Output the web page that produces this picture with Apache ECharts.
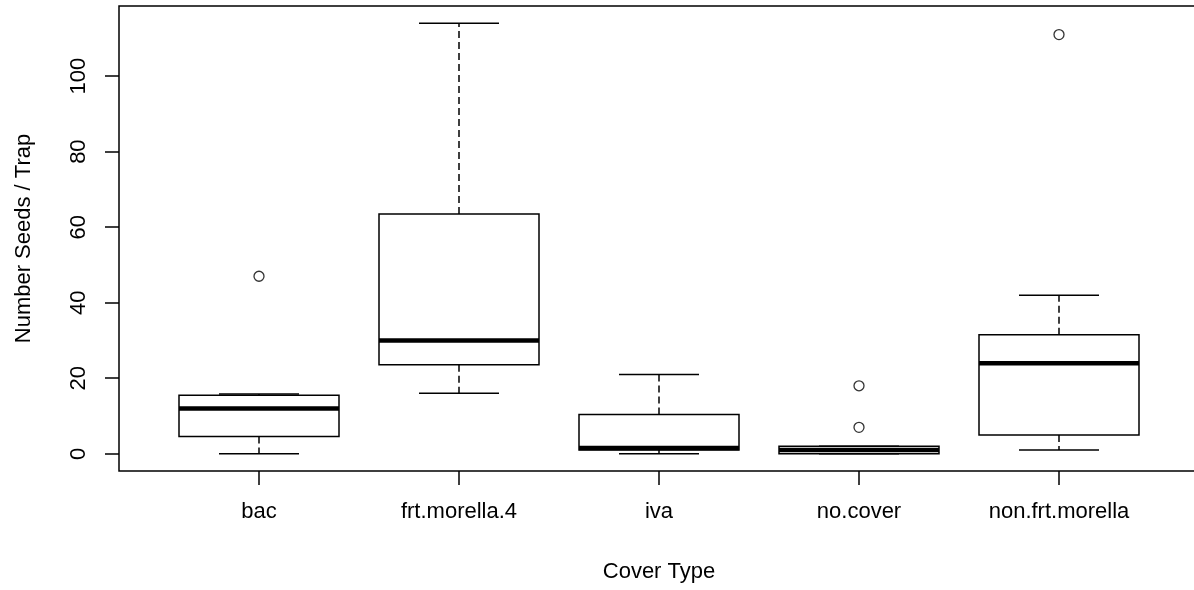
<!DOCTYPE html>
<html>
<head>
<meta charset="utf-8">
<title>Number Seeds / Trap by Cover Type</title>
<script src="https://cdn.jsdelivr.net/npm/echarts@6/dist/echarts.min.js"></script>
<style>
  html, body { margin: 0; padding: 0; background: #fff; }
  #chart { width: 1194px; height: 590px; }
</style>
</head>
<body>
<div id="chart"></div>
<script>
// Cover types along the x axis
const categories = ['bac', 'frt.morella.4', 'iva', 'no.cover', 'non.frt.morella'];

// Five-number summaries per cover type
const lowerWhisker = [0, 16, 0, 0, 1];
const lowerHinge   = [4.6, 23.6, 1, 0, 5];
const medians      = [12, 30, 1.5, 1, 24];
const upperHinge   = [15.5, 63.5, 10.4, 2, 31.5];
const upperWhisker = [15.8, 114, 21, 2, 42];

// Outlying points: index of the cover type and value
const outlierGroup  = [0, 3, 3, 4];
const outlierValues = [47, 18, 7, 111];

// Y axis tick values
const yTicks = [0, 20, 40, 60, 80, 100];
const xTicks = categories.map((_, i) => i + 1);

const FONT = '"Liberation Sans", Arial, sans-serif';
const INK = '#000';
const LW = 1.5;

const boxData = categories.map((_, i) => [
  i + 1, lowerWhisker[i], lowerHinge[i], medians[i], upperHinge[i], upperWhisker[i]
]);
const outlierData = outlierGroup.map((g, i) => [g + 1, outlierValues[i]]);

function renderBox(params, api) {
  const x = api.value(0);
  const lo = api.value(1), q1 = api.value(2), med = api.value(3),
        q3 = api.value(4), hi = api.value(5);
  const halfBox = 0.4, halfStaple = 0.2;
  const c = (xx, yy) => api.coord([xx, yy]);
  const seg = (a, b, style) => ({
    type: 'line',
    shape: { x1: a[0], y1: a[1], x2: b[0], y2: b[1] },
    style: Object.assign({ stroke: INK, lineWidth: LW, fill: null }, style || {})
  });
  const tl = c(x - halfBox, q3), br = c(x + halfBox, q1);
  return {
    type: 'group',
    children: [
      // box with white fill
      {
        type: 'rect',
        shape: { x: tl[0], y: tl[1], width: br[0] - tl[0], height: br[1] - tl[1] },
        style: { fill: '#fff', stroke: INK, lineWidth: LW }
      },
      // median
      seg(c(x - halfBox, med), c(x + halfBox, med), { lineWidth: 4.5 }),
      // whiskers
      seg(c(x, q3), c(x, hi), { lineDash: [7, 4] }),
      seg(c(x, q1), c(x, lo), { lineDash: [7, 4] }),
      // staples
      seg(c(x - halfStaple, hi), c(x + halfStaple, hi)),
      seg(c(x - halfStaple, lo), c(x + halfStaple, lo))
    ]
  };
}

const chart = echarts.init(document.getElementById('chart'), null, { renderer: 'canvas' });

chart.setOption({
  animation: false,
  backgroundColor: '#fff',
  grid: {
    show: true,
    left: 119, top: 6, width: 1080, height: 465,
    outerBoundsMode: 'none',
    containLabel: false,
    borderColor: INK, borderWidth: LW,
    backgroundColor: 'transparent'
  },
  xAxis: {
    type: 'value',
    min: 0.3, max: 5.7,
    axisLine: { show: false, onZero: false },
    splitLine: { show: false },
    axisTick: {
      show: true, customValues: xTicks, length: 14, inside: false,
      lineStyle: { color: INK, width: LW }
    },
    axisLabel: {
      show: true, customValues: xTicks, margin: 30,
      formatter: v => categories[Math.round(v) - 1] || '',
      fontSize: 22, fontFamily: FONT, color: INK
    },
    name: 'Cover Type',
    nameLocation: 'middle',
    nameGap: 90,
    nameTextStyle: { fontSize: 22, fontFamily: FONT, color: INK }
  },
  yAxis: {
    type: 'value',
    min: -4.56, max: 118.56,
    axisLine: { show: false, onZero: false },
    splitLine: { show: false },
    axisTick: {
      show: true, customValues: yTicks, length: 14, inside: false,
      lineStyle: { color: INK, width: LW }
    },
    axisLabel: {
      show: true, customValues: yTicks, margin: 29, rotate: 90,
      fontSize: 22, fontFamily: FONT, color: INK
    },
    name: 'Number Seeds / Trap',
    nameLocation: 'middle',
    nameGap: 84,
    nameTextStyle: { fontSize: 22, fontFamily: FONT, color: INK }
  },
  series: [
    {
      type: 'custom',
      name: 'boxes',
      renderItem: renderBox,
      data: boxData,
      encode: { x: 0, y: [1, 2, 3, 4, 5] },
      silent: true
    },
    {
      type: 'scatter',
      name: 'outliers',
      data: outlierData,
      symbol: 'circle',
      symbolSize: 10,
      itemStyle: { color: '#fff', borderColor: INK, borderWidth: 1.3 },
      silent: true
    }
  ]
});
</script>
</body>
</html>
